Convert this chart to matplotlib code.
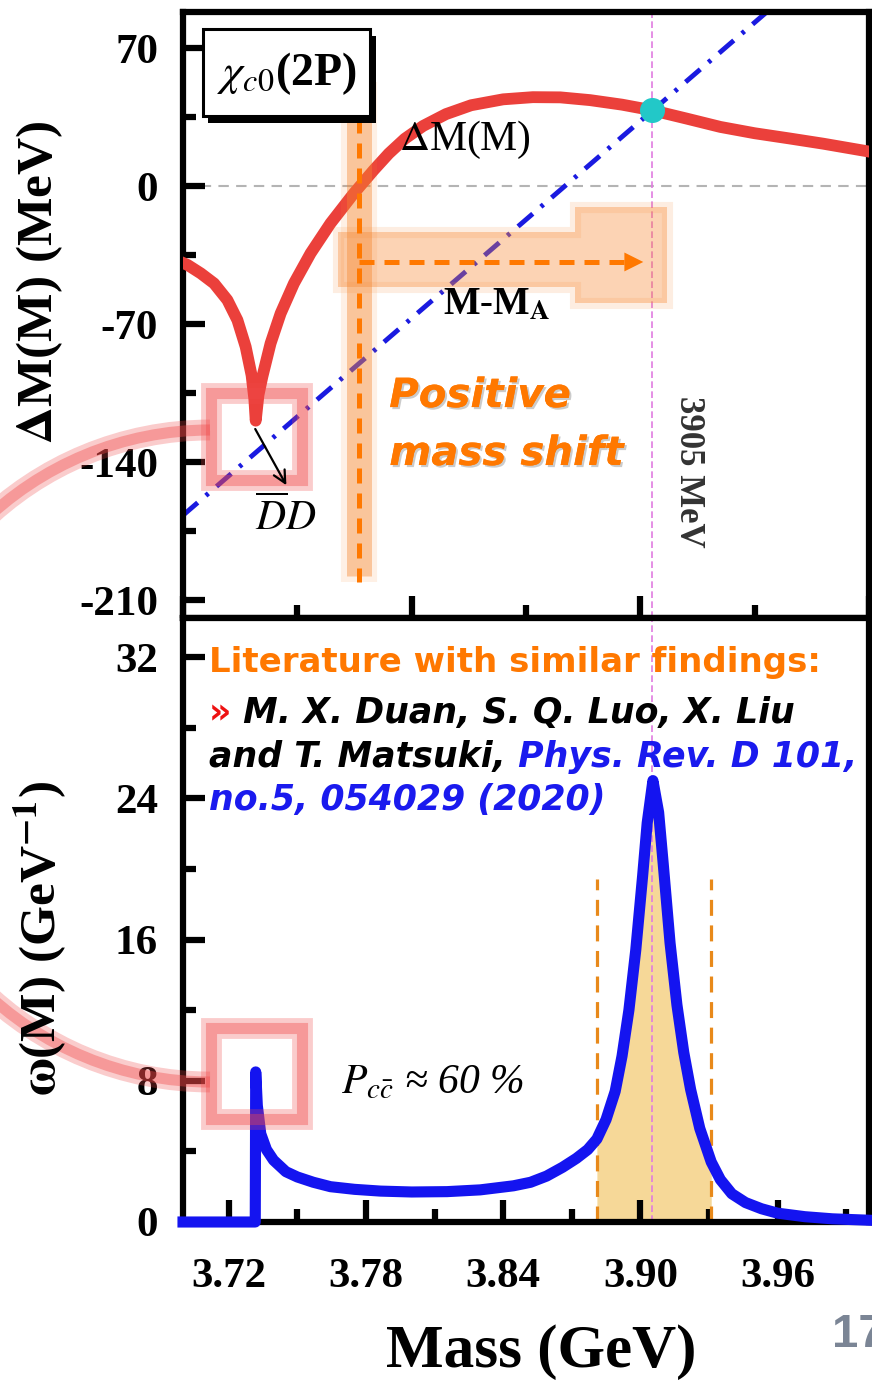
import numpy as np
import matplotlib.pyplot as plt
import matplotlib.patheffects as pe
from matplotlib.patches import Rectangle, Arc, Polygon
from matplotlib.ticker import MultipleLocator

plt.rcParams['font.family'] = 'Liberation Serif'
plt.rcParams['mathtext.fontset'] = 'stix'
plt.rcParams['axes.unicode_minus'] = False

# mass shift Delta M(M) in MeV (top panel)
dm_mass = [3.7000, 3.7020, 3.7078, 3.7136, 3.7194, 3.7238, 3.7274, 3.7300, 3.7312, 3.7318,
           3.7330, 3.7347, 3.7383, 3.7427, 3.7485, 3.7558, 3.7645, 3.7747, 3.7834, 3.790,
           3.797, 3.805, 3.815, 3.826, 3.840, 3.853, 3.865, 3.878, 3.892, 3.905,
           3.920, 3.935, 3.950, 3.965, 3.980, 4.000]
dm_value = [-39, -40, -44.3, -49.4, -57.8, -68, -81.5, -96, -108, -119,
            -106, -96.7, -79.8, -64.6, -49.4, -34.1, -18.9, -3.7, 8.1, 16.5,
            24.0, 30.5, 36.5, 41.0, 44.0, 45.1, 45.0, 43.6, 41.3, 38.5,
            34.3, 30.0, 26.8, 24.2, 21.5, 17.5]

# straight line M - M_A
mma_mass = [3.700, 3.960]
mma_value = [-167, 93]

# pole / crossing point
cross_mass = [3.905]
cross_value = [38.5]

# spectral density omega(M) in GeV^-1 (bottom panel)
w_mass = [3.700, 3.7316, 3.7318, 3.7325, 3.734, 3.7365, 3.7396, 3.745, 3.750, 3.757,
          3.7645, 3.775, 3.7864, 3.800, 3.8155, 3.830, 3.8445, 3.852, 3.859, 3.866,
          3.872, 3.877, 3.881, 3.885, 3.889, 3.892, 3.895, 3.898, 3.901, 3.903,
          3.9055, 3.908, 3.910, 3.913, 3.916, 3.919, 3.922, 3.926, 3.931, 3.935,
          3.940, 3.946, 3.953, 3.960, 3.972, 3.984, 4.000]
w_value = [0, 0, 8.5, 6.6, 5.0, 4.1, 3.5, 2.85, 2.55, 2.25,
           2.0, 1.85, 1.75, 1.7, 1.72, 1.82, 2.05, 2.25, 2.6, 3.1,
           3.6, 4.1, 4.7, 5.8, 7.4, 9.4, 12.0, 15.4, 19.6, 22.6,
           25.0, 23.2, 20.3, 15.8, 12.3, 9.6, 7.5, 5.3, 3.4, 2.4,
           1.6, 1.1, 0.75, 0.5, 0.3, 0.18, 0.1]

band_lo, band_hi = 3.881, 3.931
m_pole = 3.905
m_bare_cross = 3.777

top_yticks = [-210, -140, -70, 0, 70]
bot_yticks = [0, 8, 16, 24, 32]
bot_xticks = [3.72, 3.78, 3.84, 3.90, 3.96]

W, H = 872, 1383
fig = plt.figure(figsize=(W / 100, H / 100), dpi=100)

def px_axes(l, t, r, b):
    return [l / W, 1 - b / H, (r - l) / W, (b - t) / H]

ax1 = fig.add_axes(px_axes(183, 12, 869, 618))
ax2 = fig.add_axes(px_axes(183, 618, 869, 1222))

for ax in (ax1, ax2):
    ax.set_xlim(3.70, 4.00)
    for s in ax.spines.values():
        s.set_linewidth(4.5)
    ax.tick_params(which='major', direction='in', length=16, width=4.5,
                   labelsize=31, pad=18, top=False, right=False)
    ax.tick_params(which='minor', direction='in', length=9.5, width=4.5,
                   top=False, right=False)

# ---- top panel ----
ax1.set_ylim(-219.1, 88.3)
ax1.set_yticks(top_yticks)
ax1.yaxis.set_minor_locator(MultipleLocator(35))
ax1.xaxis.set_major_locator(MultipleLocator(0.1))
ax1.xaxis.set_minor_locator(MultipleLocator(0.05))
ax1.set_xticklabels([])
for lab in ax1.get_yticklabels():
    lab.set_fontweight('bold')

ax1.axhline(0, color='#b4b4b4', lw=1.5, dashes=(5, 3.5), zorder=1)
ax1.plot(mma_mass, mma_value, color='#1a1ae0', lw=3.5, dashes=(4, 2.2, 0.7, 2.2), zorder=2)
ax1.plot(dm_mass, dm_value, color='#eb403b', lw=8.5, solid_joinstyle='round', zorder=3)
ax1.axvline(m_pole, color='#e07ce0', lw=1.2, dashes=(4, 2), zorder=2.5)
ax1.plot(cross_mass, cross_value, 'o', color='#22c8c8', ms=17, zorder=5)

# glow bands behind the orange arrows
glow = '#f7862f'
ax1.plot([m_bare_cross] * 2, [50, -198], color=glow, lw=18, alpha=0.4,
         solid_capstyle='butt', zorder=6)
ax1.plot([m_bare_cross] * 2, [53, -201], color=glow, lw=26, alpha=0.12,
         solid_capstyle='butt', zorder=6)
arrow_band = [(3.7676, -23.3), (3.8714, -23.3), (3.8714, -10.7), (3.9116, -10.7),
              (3.9116, -59.3), (3.8714, -59.3), (3.8714, -51.2), (3.7676, -51.2)]
ax1.add_patch(Polygon(arrow_band, closed=True, facecolor=glow, alpha=0.36,
                      edgecolor='none', zorder=6))
ax1.add_patch(Polygon(arrow_band, closed=True, facecolor='none', edgecolor=glow,
                      lw=8, alpha=0.14, zorder=6))

orange = '#ff7800'
ax1.plot([m_bare_cross] * 2, [47, -201], color=orange, lw=3.6, dashes=(3, 2), zorder=7)
ax1.plot([m_bare_cross, 3.897], [-38.5, -38.5], color=orange, lw=3.6, dashes=(3, 2), zorder=7)
ax1.annotate('', xy=(3.9025, -38.5), xytext=(3.895, -38.5),
             arrowprops=dict(arrowstyle='-|>', color=orange, lw=0, mutation_scale=34),
             zorder=7)

# cusp arrow and labels
ax1.annotate('', xy=(3.7458, -153), xytext=(3.7310, -122),
             arrowprops=dict(arrowstyle='->', color='black', lw=1.6, mutation_scale=22),
             zorder=9)
ax1.text(3.7449, -168, r'$\overline{D}D$', fontsize=30, ha='center', va='center', zorder=9)
ax1.text(3.8234, 23.3, r'$\Delta$M(M)', fontsize=30, ha='center', va='center', zorder=9)
ax1.text(3.8138, -60.4, r'M-M$_\mathbf{A}$', fontsize=28, fontweight='bold',
         ha='left', va='center', zorder=9)
ax1.text(3.921, -145, '3905 MeV', fontsize=25, fontweight='bold', color='#333333',
         rotation=270, ha='center', va='center', zorder=9)
shadow = [pe.withSimplePatchShadow(offset=(1.5, -1.5), shadow_rgbFace='#999999', alpha=0.5),
          pe.Normal()]
for txt, yb in (('Positive', -112.1), ('mass shift', -141.5)):
    ax1.text(3.7902, yb, txt, fontsize=29, color=orange, family='DejaVu Sans',
             fontweight='bold', style='italic', va='baseline', ha='left',
             path_effects=shadow, zorder=9)

# chi_c0(2P) box with shadow
ax1.add_patch(Rectangle((0.037, 0.817), 0.244, 0.144, transform=ax1.transAxes,
                        facecolor='black', edgecolor='none', zorder=8))
ax1.add_patch(Rectangle((0.029, 0.828), 0.244, 0.144, transform=ax1.transAxes,
                        facecolor='white', edgecolor='black', lw=2.2, zorder=8))
ax1.text(0.151, 0.898, r'$\chi_{c0}$(2P)', transform=ax1.transAxes, fontsize=33,
         fontweight='bold', ha='center', va='center', zorder=9)

# ---- bottom panel ----
ax2.set_ylim(0, 34.21)
ax2.set_yticks(bot_yticks)
ax2.yaxis.set_minor_locator(MultipleLocator(4))
ax2.set_xticks(bot_xticks)
ax2.xaxis.set_minor_locator(MultipleLocator(0.03))
ax2.set_xticklabels([f'{v:.2f}' for v in bot_xticks])
for lab in ax2.get_xticklabels() + ax2.get_yticklabels():
    lab.set_fontweight('bold')
ax2.tick_params(axis='x', which='major', pad=26)

wm = np.array(w_mass)
wv = np.array(w_value)
ax2.fill_between(wm, 0, wv, where=(wm >= band_lo) & (wm <= band_hi),
                 color='#f6d898', lw=0, zorder=1)
for m in (band_lo, band_hi):
    ax2.plot([m, m], [0, 19.4], color='#e8891a', lw=2.3, dashes=(5, 3), zorder=2)
ax2.axvline(m_pole, color='#e07ce0', lw=1.2, dashes=(4, 2), zorder=2.5)
ax2.plot(wm, wv, color='#1414f0', lw=8, solid_joinstyle='round', zorder=3, clip_on=False)

ax2.text(3.7689, 7.31, r'$P_{c\bar{c}}$ ≈ 60 %', fontsize=30, style='italic',
         ha='left', va='baseline', zorder=9)

# literature note
lit = dict(family='DejaVu Sans', fontweight='bold', zorder=9)
ax2.text(3.7113, 31.15, 'Literature with similar findings:', color=orange,
         fontsize=24.5, va='baseline', **lit)
t = ax2.text(3.7113, 28.26, '»', color='#ee1111', fontsize=25, va='baseline', **lit)
ax2.annotate(' M. X. Duan, S. Q. Luo, X. Liu', xy=(1, 0), xycoords=t, va='bottom',
             color='black', fontsize=25, style='italic', **lit)
t = ax2.text(3.7113, 25.77, 'and T. Matsuki,', color='black', fontsize=25,
             style='italic', va='baseline', **lit)
ax2.annotate(' Phys. Rev. D 101,', xy=(1, 0), xycoords=t, va='bottom',
             color='#1a1aee', fontsize=25, style='italic', **lit)
ax2.text(3.7113, 23.33, 'no.5, 054029 (2020)', color='#1a1aee', fontsize=25,
         style='italic', va='baseline', **lit)

# highlight squares
for ax, (y0, y1) in ((ax1, (-149.1, -105.0)), (ax2, (5.83, 10.99))):
    for lw_, a in ((15, 0.28), (8, 0.38)):
        ax.add_patch(Rectangle((3.7121, y0), 0.0401, y1 - y0, facecolor='none',
                               edgecolor='#f04848', lw=lw_, alpha=a, zorder=8))

# axis labels
fig.text(40 / W, 1 - 282 / H, r'$\mathbf{\Delta}$M(M) (MeV)', rotation=90, fontsize=37,
         fontweight='bold', ha='center', va='center')
fig.text(40 / W, 1 - 938 / H, r'$\mathbf{\omega}$(M) (GeV$^{\mathbf{-1}}$)', rotation=90,
         fontsize=37, fontweight='bold', ha='center', va='center')
fig.text(541 / W, 1 - 1367 / H, 'Mass (GeV)', fontsize=44, fontweight='bold',
         ha='center', va='baseline')
fig.text(832 / W, 1 - 1347 / H, '17', fontsize=34, fontweight='bold', color='#7b8595',
         family='Liberation Sans', ha='left', va='baseline')

# connecting arc in figure pixels
ov = fig.add_axes([0, 0, 1, 1], facecolor='none')
ov.set_xlim(0, W)
ov.set_ylim(H, 0)
ov.axis('off')
for lw_, a in ((15, 0.28), (8, 0.38)):
    ov.add_patch(Arc((210, 756), 652, 652, theta1=90, theta2=270, color='#f04848',
                     lw=lw_, alpha=a))

fig.savefig('out.png', dpi=100)
